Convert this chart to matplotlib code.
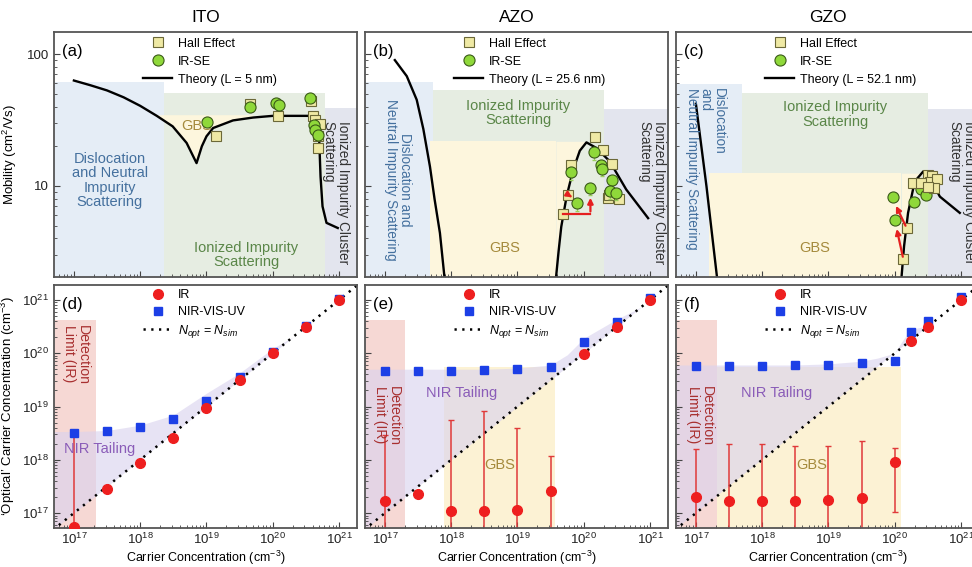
import numpy as np
import matplotlib.pyplot as plt
from matplotlib.lines import Line2D
from matplotlib.ticker import LogLocator, NullFormatter

plt.rcParams['font.family'] = ['Liberation Sans', 'DejaVu Sans']
plt.rcParams['mathtext.fontset'] = 'custom'
plt.rcParams['mathtext.rm'] = 'Liberation Sans'
plt.rcParams['mathtext.it'] = 'Liberation Sans:italic'

# ---------------- data (carrier concentration as log10, cm^-3) ----------------
# (a) ITO mobility
ito_hall_n = [19.15, 19.66, 20.08, 20.57, 20.61, 20.63, 20.71, 20.68, 20.68]
ito_hall_mu = [24, 42, 34, 44, 34, 31.7, 29.6, 19.4, 23.8]
ito_irse_n = [19.01, 19.66, 20.05, 20.10, 20.56, 20.62, 20.64, 20.68]
ito_irse_mu = [30.8, 39.5, 42.5, 41, 46.4, 29, 26.7, 24.5]
ito_theory_n = [17.0, 17.25, 17.5, 17.75, 18.0, 18.25, 18.49, 18.7, 18.85, 18.93, 19.0,
                19.1, 19.4, 19.7, 20.0, 20.55, 20.63, 20.70, 20.72, 20.75, 20.81, 20.98]
ito_theory_mu = [63, 58, 53, 47, 40.5, 34, 28.3, 21.2, 14.9, 20, 23.8,
                 27.5, 31.4, 33, 34, 34, 33.5, 22.4, 11.8, 7.0, 5.25, 4.8]

# (b) AZO mobility
azo_hall_n = [20.17, 20.29, 19.81, 20.43, 19.76, 19.68, 20.36, 20.53, 20.38]
azo_hall_mu = [23.5, 18.8, 14.3, 14.7, 8.6, 6.1, 8.1, 7.9, 8.6]
azo_irse_n = [20.15, 20.26, 20.27, 19.81, 20.43, 20.39, 20.49, 20.10, 19.90]
azo_irse_mu = [18, 14.5, 13.5, 12.7, 11, 9.1, 8.9, 9.7, 7.4]
azo_theory_left_n = [17.15, 17.33, 17.48, 17.58, 17.68, 17.75, 17.83, 17.9]
azo_theory_left_mu = [90, 68, 45, 27, 14, 7.9, 4.4, 2.0]
azo_theory_right_n = [19.58, 19.62, 19.66, 19.74, 19.84, 19.94, 20.04, 20.19, 20.39, 20.64, 20.97]
azo_theory_right_mu = [2.0, 3.2, 4.9, 8.3, 13.3, 18.5, 21.4, 19.4, 15.4, 9.4, 5.7]

# (c) GZO mobility
gzo_hall_n = [20.13, 20.18, 20.28, 20.50, 20.56, 20.53, 20.63, 20.40, 20.59, 20.50]
gzo_hall_mu = [2.77, 4.78, 10.5, 12.2, 11.8, 10.8, 11.2, 10.5, 9.7, 9.9]
gzo_irse_n = [19.98, 20.0, 20.29, 20.40, 20.47, 20.56]
gzo_irse_mu = [8.2, 5.5, 7.5, 9.4, 8.6, 10.8]
gzo_theory_left_n = [17.0, 17.16, 17.32]
gzo_theory_left_mu = [42, 9.9, 2.0]
gzo_theory_right_n = [20.10, 20.14, 20.2, 20.3, 20.43, 20.55, 20.68, 20.98]
gzo_theory_right_mu = [2.0, 3.5, 6.25, 10.8, 12.9, 11.0, 8.3, 6.25]

# (d)-(f) optical vs simulated carrier concentration (log10)
nsim = [17.0, 17.5, 18.0, 18.5, 19.0, 19.5, 20.0, 20.5, 21.0]
ito_ir = [16.74, 17.46, 17.945, 18.414, 18.98, 19.5, 20.0, 20.5, 21.0]
ito_uv = [18.51, 18.54, 18.62, 18.76, 19.11, 19.55, 20.02, 20.51, 21.01]
ito_err_idx = [0]
ito_err_hi = [18.5]
ito_err_lo = [15.5]

azo_ir = [17.23, 17.36, 17.04, 17.04, 17.06, 17.42, 19.99, 20.50, 20.99]
azo_uv = [19.67, 19.67, 19.67, 19.68, 19.70, 19.74, 20.21, 20.59, 21.03]
azo_err_idx = [0, 2, 3, 4, 5]
azo_err_hi = [18.46, 18.75, 18.92, 18.60, 18.07]
azo_err_lo = [15.5, 15.5, 15.5, 15.5, 15.5]

gzo_nsim = [17.0, 17.5, 18.0, 18.5, 19.0, 19.5, 20.0, 20.25, 20.5, 21.0]
gzo_ir = [17.30, 17.23, 17.23, 17.23, 17.24, 17.28, 17.96, 20.22, 20.49, 21.0]
gzo_uv = [19.76, 19.76, 19.76, 19.77, 19.78, 19.81, 19.86, 20.39, 20.61, 21.05]
gzo_err_idx = [0, 1, 2, 3, 4, 5, 6]
gzo_err_hi = [18.21, 18.30, 18.30, 18.25, 18.26, 18.35, 18.23]
gzo_err_lo = [15.5, 15.5, 15.5, 15.5, 15.5, 15.5, 17.02]

# upper edge of the "NIR Tailing" band
ito_band_n = [16.6, 17.0, 17.5, 18.0, 18.5, 19.0, 19.5, 20.0, 20.31]
ito_band_v = [18.53, 18.53, 18.55, 18.65, 18.84, 19.25, 19.63, 20.09, 20.31]
azo_band_n = [16.6, 17.5, 18.5, 19.0, 19.5, 19.75, 20.0, 20.5, 20.87]
azo_band_v = [19.70, 19.70, 19.70, 19.72, 19.78, 19.97, 20.28, 20.64, 20.87]
gzo_band_n = [16.6, 17.5, 18.5, 19.0, 19.5, 19.75, 20.0, 20.24, 20.5]
gzo_band_v = [19.77, 19.77, 19.77, 19.79, 19.84, 19.9, 19.99, 20.44, 20.5]

# ---------------- styles ----------------
C_BLUE = '#e5edf6'
C_GREEN = '#e6ede2'
C_GRAY = '#e3e5ee'
C_YEL = '#fdf6dd'
C_PINK = '#f6d8d4'
C_LAV = '#d9d2ee'
C_YEL2 = '#fcf2d4'
T_BLUE = '#44709e'
T_GREEN = '#5a8648'
T_GBS = '#a58a3c'
T_DARK = '#333333'
T_PURP = '#8a5cb8'
T_RED = '#a83030'
HALL_FC, HALL_EC = '#efe9a4', '#6b6838'
IRSE_FC, IRSE_EC = '#8fd83a', '#3a5a18'
RED, BLUE = '#ee1f1f', '#1c3fe6'
FS_REG = 10.5   # horizontal region labels
FS_ROT = 9.8    # rotated region labels

W, H = 972, 567
fig = plt.figure(figsize=(W / 100, H / 100), dpi=100)


def add_ax(px, py, w, h):
    return fig.add_axes([px / W, 1 - (py + h) / H, w / W, h / H])


cols = [54, 365, 676]
top = [add_ax(c, 32, 303, 245) for c in cols]
bot = [add_ax(c, 285, 303, 243) for c in cols]

E = lambda v: 10 ** np.asarray(v, dtype=float)


def style(ax, ylim):
    ax.set_xscale('log')
    ax.set_yscale('log')
    ax.set_xlim(E(16.70), E(21.27))
    ax.set_ylim(*ylim)
    ax.xaxis.set_minor_locator(LogLocator(base=10, subs=np.arange(2, 10), numticks=20))
    ax.yaxis.set_minor_locator(LogLocator(base=10, subs=np.arange(2, 10), numticks=20))
    ax.xaxis.set_minor_formatter(NullFormatter())
    ax.yaxis.set_minor_formatter(NullFormatter())
    ax.tick_params(which='both', direction='in', top=False, right=False,
                   labelsize=9.5, colors='#444', labelcolor='#222')
    ax.tick_params(which='major', length=4, width=0.8)
    ax.tick_params(which='minor', length=2, width=0.6)
    for s in ax.spines.values():
        s.set_color('#555')
        s.set_linewidth(1.3)


def box(ax, x0, x1, ytop, color, ybot):
    ax.fill_between([E(x0), E(x1)], ybot, ytop, color=color, lw=0, zorder=0)


# ---------------- top row: mobility ----------------
for ax in top:
    style(ax, (2.04, 147))
    ax.set_xticklabels([])
    ax.set_yticks([10, 100])
top[0].set_yticklabels(['10', '100'])
top[1].set_yticklabels([])
top[2].set_yticklabels([])
top[0].set_ylabel('Mobility (cm$^2$/Vs)', fontsize=9.5, labelpad=6)

for ax, t in zip(top, ['ITO', 'AZO', 'GZO']):
    ax.set_title(t, fontsize=12.5, pad=7)

# (a)
ax = top[0]
box(ax, 16.6, 18.36, 61, C_BLUE, 1)
box(ax, 18.36, 20.79, 51, C_GREEN, 1)
box(ax, 20.79, 21.5, 39, C_GRAY, 1)
tn, tm = E(ito_theory_n), np.array(ito_theory_mu, float)
sel = (tn > E(18.2)) & (tn < E(19.9))
ax.fill_between(tn[sel], tm[sel], 34.7, where=tm[sel] < 34.7, interpolate=True,
                color=C_YEL, lw=0, zorder=0.5)
ax.plot(tn, tm, color='k', lw=1.7, zorder=2)
ax.text(E(17.54), 11, 'Dislocation\nand Neutral\nImpurity\nScattering', color=T_BLUE,
        fontsize=FS_REG, ha='center', va='center', linespacing=1.05)
ax.text(E(19.6), 3.0, 'Ionized Impurity\nScattering', color=T_GREEN, fontsize=FS_REG,
        ha='center', va='center', linespacing=1.05)
ax.text(E(18.85), 28.3, 'GBS', color=T_GBS, fontsize=FS_REG, ha='center', va='center')
ax.text(E(20.95), 31, 'Ionized Impurity Cluster\nScattering', color=T_DARK, fontsize=FS_ROT,
        rotation=-90, ha='center', va='top', multialignment='left', linespacing=1.05)
ax.plot(E(ito_hall_n), ito_hall_mu, 's', ms=7, mfc=HALL_FC, mec=HALL_EC, mew=0.8, zorder=3)
ax.plot(E(ito_irse_n), ito_irse_mu, 'o', ms=8, mfc=IRSE_FC, mec=IRSE_EC, mew=0.8, zorder=4)

# (b)
ax = top[1]
box(ax, 16.6, 17.72, 61, C_BLUE, 1)
box(ax, 17.72, 20.31, 53, C_GREEN, 1)
box(ax, 20.31, 21.5, 38, C_GRAY, 1)
box(ax, 17.68, 19.58, 21.8, C_YEL, 1)
rn, rm = E(azo_theory_right_n[:7]), azo_theory_right_mu[:7]
ax.fill_between(rn, rm, 21.8, color=C_YEL, lw=0, zorder=0.5)
ax.plot(E(azo_theory_left_n), azo_theory_left_mu, color='k', lw=1.7, zorder=2)
ax.plot(E(azo_theory_right_n), azo_theory_right_mu, color='k', lw=1.7, zorder=2)
ax.text(E(17.2), 11.1, 'Dislocation and\nNeutral Impurity Scattering', color=T_BLUE,
        fontsize=FS_ROT, rotation=-90, ha='center', va='center', linespacing=1.05)
ax.text(E(19.01), 35.7, 'Ionized Impurity\nScattering', color=T_GREEN, fontsize=FS_REG,
        ha='center', va='center', linespacing=1.05)
ax.text(E(18.81), 3.4, 'GBS', color=T_GBS, fontsize=FS_REG, ha='center', va='center')
ax.text(E(21.02), 31, 'Ionized Impurity Cluster\nScattering', color=T_DARK, fontsize=FS_ROT,
        rotation=-90, ha='center', va='top', multialignment='left', linespacing=1.05)
ax.plot(E(azo_hall_n), azo_hall_mu, 's', ms=7, mfc=HALL_FC, mec=HALL_EC, mew=0.8, zorder=3)
mu = np.array(azo_irse_mu, float)
ax.errorbar(E(azo_irse_n), mu, yerr=[mu * 0.12, mu * 0.05], fmt='none', ecolor='#9bd060',
            elinewidth=0.8, capsize=1.5, zorder=3.5)
ax.plot(E(azo_irse_n), azo_irse_mu, 'o', ms=8, mfc=IRSE_FC, mec=IRSE_EC, mew=0.8, zorder=4)
# red arrows: Hall -> IR-SE
ax.plot([E(azo_hall_n[5]), E(azo_irse_n[7])], [azo_hall_mu[5], azo_hall_mu[5]],
        color='#e52020', lw=1.6, zorder=5)
ax.annotate('', xy=(E(azo_irse_n[7]), azo_irse_mu[7] * 0.88),
            xytext=(E(azo_irse_n[7]), azo_hall_mu[5]),
            arrowprops=dict(arrowstyle='-|>', color='#e52020', lw=1.6, mutation_scale=8), zorder=5)
ax.annotate('', xy=(E(azo_irse_n[8] - 0.04), azo_irse_mu[8] * 1.08),
            xytext=(E(azo_hall_n[4]), azo_hall_mu[4]),
            arrowprops=dict(arrowstyle='-|>', color='#e52020', lw=1.6, mutation_scale=8), zorder=5)

# (c)
ax = top[2]
box(ax, 16.6, 17.7, 59, C_BLUE, 1)
box(ax, 17.7, 20.5, 51, C_GREEN, 1)
box(ax, 20.5, 21.5, 38, C_GRAY, 1)
box(ax, 17.2, 20.10, 12.5, C_YEL, 1)
rn = E(gzo_theory_right_n[:5])
rm = np.minimum(gzo_theory_right_mu[:5], 12.5)
ax.fill_between(rn, rm, 12.5, color=C_YEL, lw=0, zorder=0.5)
ax.plot(E(gzo_theory_left_n), gzo_theory_left_mu, color='k', lw=1.7, zorder=2)
ax.plot(E(gzo_theory_right_n), gzo_theory_right_mu, color='k', lw=1.7, zorder=2)
ax.text(E(17.14), 55, 'Dislocation\nand\nNeutral Impurity Scattering', color=T_BLUE,
        fontsize=FS_ROT, rotation=-90, ha='center', va='top', multialignment='left',
        linespacing=0.95)
ax.text(E(19.10), 34.7, 'Ionized Impurity\nScattering', color=T_GREEN, fontsize=FS_REG,
        ha='center', va='center', linespacing=1.05)
ax.text(E(18.79), 3.4, 'GBS', color=T_GBS, fontsize=FS_REG, ha='center', va='center')
ax.text(E(21.01), 31, 'Ionized Impurity Cluster\nScattering', color=T_DARK, fontsize=FS_ROT,
        rotation=-90, ha='center', va='top', multialignment='left', linespacing=1.05,
        clip_on=True)
ax.plot(E(gzo_irse_n), gzo_irse_mu, 'o', ms=8, mfc=IRSE_FC, mec=IRSE_EC, mew=0.8, zorder=3)
ax.plot(E(gzo_hall_n), gzo_hall_mu, 's', ms=7, mfc=HALL_FC, mec=HALL_EC, mew=0.8, zorder=4)
for hi, ci in [(1, 0), (0, 1)]:
    ax.annotate('', xy=(E(gzo_irse_n[ci] + 0.02), gzo_irse_mu[ci] * 0.9),
                xytext=(E(gzo_hall_n[hi]), gzo_hall_mu[hi]),
                arrowprops=dict(arrowstyle='-|>', color='#e52020', lw=1.6, mutation_scale=8),
                zorder=5)

theory_labels = ['Theory (L = 5 nm)', 'Theory (L = 25.6 nm)', 'Theory (L = 52.1 nm)']
for ax, tl in zip(top, theory_labels):
    hnd = [Line2D([], [], ls='none', marker='s', ms=7, mfc=HALL_FC, mec=HALL_EC, mew=0.8),
           Line2D([], [], ls='none', marker='o', ms=8, mfc=IRSE_FC, mec=IRSE_EC, mew=0.8),
           Line2D([], [], color='k', lw=1.7)]
    ax.legend(hnd, ['Hall Effect', 'IR-SE', tl], loc='upper left', bbox_to_anchor=(0.285, 0.99),
              frameon=False, fontsize=9, handlelength=2.3, handletextpad=0.45,
              labelspacing=0.48, borderpad=0.25, borderaxespad=0)
for ax, lab in zip(top, ['(a)', '(b)', '(c)']):
    ax.text(0.028, 0.95, lab, transform=ax.transAxes, fontsize=12, va='top', ha='left')

# ---------------- bottom row: optical carrier concentration ----------------
YB = (E(16.72), E(21.28))
for ax in bot:
    style(ax, YB)
    ax.set_xticks(E([17, 18, 19, 20, 21]))
    ax.set_yticks(E([17, 18, 19, 20, 21]))
    ax.tick_params(axis='x', which='major', pad=3)
    ax.set_xlabel('Carrier Concentration (cm$^{-3}$)', fontsize=9, labelpad=1)
bot[1].set_yticklabels([])
bot[2].set_yticklabels([])
bot[0].set_ylabel('\u2018Optical\u2019 Carrier Concentration (cm$^{-3}$)', fontsize=9.5,
                  labelpad=4)

diag = E([16.5, 21.5])
panels = [
    (nsim, ito_ir, ito_uv, ito_err_idx, ito_err_lo, ito_err_hi, ito_band_n, ito_band_v,
     17.33, None),
    (nsim, azo_ir, azo_uv, azo_err_idx, azo_err_lo, azo_err_hi, azo_band_n, azo_band_v,
     17.3, (17.89, 19.56, 19.74)),
    (gzo_nsim, gzo_ir, gzo_uv, gzo_err_idx, gzo_err_lo, gzo_err_hi, gzo_band_n, gzo_band_v,
     17.32, (17.32, 20.09, 19.74)),
]
for ax, (ns, ir, uv, ei, elo, ehi, bn, bv, pink_x, gbs) in zip(bot, panels):
    box(ax, 16.6, pink_x, E(20.63), C_PINK, E(15))
    if gbs is not None:
        box(ax, gbs[0], gbs[1], E(gbs[2]), C_YEL2, E(15))
    bx, by = E(bn), E(bv)
    ax.fill_between(bx, bx, by, where=by > bx, interpolate=True, color=C_LAV, alpha=0.62,
                    lw=0, zorder=0.6)
    ax.plot(diag, diag, color='k', lw=1.8, ls=(0, (0.9, 2.2)), zorder=2)
    x = E(ns)
    yir = E(ir)
    ex = x[ei]
    ey = yir[ei]
    ax.errorbar(ex, ey, yerr=[ey - E(elo), E(ehi) - ey], fmt='none', ecolor='#e03a3a',
                elinewidth=1.1, capsize=2.5, capthick=1.0, zorder=2.5)
    ax.plot(x, E(uv), 's', ms=6, color=BLUE, mec=BLUE, zorder=3)
    ax.plot(x, yir, 'o', ms=7, color=RED, mec=RED, zorder=4)
    hnd = [Line2D([], [], ls='none', marker='o', ms=7, color=RED),
           Line2D([], [], ls='none', marker='s', ms=6, color=BLUE),
           Line2D([], [], color='k', lw=1.8, ls=(0, (0.9, 2.2)))]
    ax.legend(hnd, ['IR', 'NIR-VIS-UV', '$N_{opt}$ = $N_{sim}$'], loc='upper left',
              bbox_to_anchor=(0.285, 0.995), frameon=False, fontsize=9, handlelength=2.3,
              handletextpad=0.45, labelspacing=0.38, borderpad=0.25, borderaxespad=0)

for ax, lab in zip(bot, ['(d)', '(e)', '(f)']):
    ax.text(0.028, 0.95, lab, transform=ax.transAxes, fontsize=12, va='top', ha='left')

# region labels, bottom row
d, e, f = bot
d.text(E(17.39), E(18.21), 'NIR Tailing', color=T_PURP, fontsize=FS_REG, ha='center', va='center')
d.text(E(17.03), E(20.53), 'Detection\nLimit (IR)', color=T_RED, fontsize=10.2, rotation=-90,
       ha='center', va='top', multialignment='left', linespacing=1.0)
e.text(E(18.16), E(19.25), 'NIR Tailing', color=T_PURP, fontsize=FS_REG, ha='center', va='center')
e.text(E(18.73), E(17.9), 'GBS', color=T_GBS, fontsize=FS_REG, ha='center', va='center')
e.text(E(17.03), E(19.38), 'Detection\nLimit (IR)', color=T_RED, fontsize=10.2, rotation=-90,
       ha='center', va='top', multialignment='left', linespacing=1.0)
f.text(E(18.22), E(19.26), 'NIR Tailing', color=T_PURP, fontsize=FS_REG, ha='center', va='center')
f.text(E(18.75), E(17.9), 'GBS', color=T_GBS, fontsize=FS_REG, ha='center', va='center')
f.text(E(17.06), E(19.38), 'Detection\nLimit (IR)', color=T_RED, fontsize=10.2, rotation=-90,
       ha='center', va='top', multialignment='left', linespacing=1.0)

fig.savefig('out.png', dpi=100)
